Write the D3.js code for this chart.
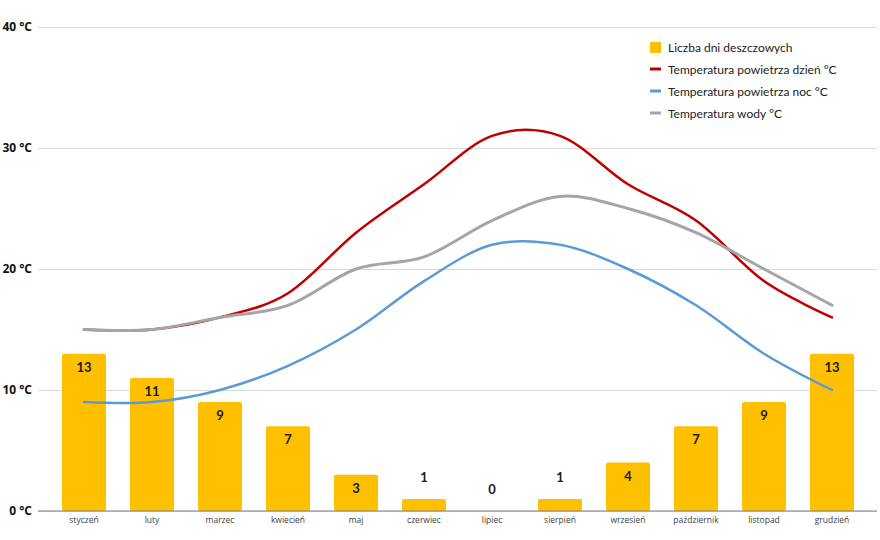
<!DOCTYPE html>
<html>
<head>
<meta charset="utf-8">
<script src="https://cdn.jsdelivr.net/npm/d3@7"></script>
<style>
  body { margin: 0; background: #fff; }
  svg { display: block; font-family: Lato, "Open Sans", sans-serif; }
</style>
</head>
<body>
<svg id="chart" width="880" height="540"></svg>
<script>
const months = ['styczeń', 'luty', 'marzec', 'kwiecień', 'maj', 'czerwiec', 'lipiec', 'sierpień', 'wrzesień', 'październik', 'listopad', 'grudzień'];
const rainDays = [13, 11, 9, 7, 3, 1, 0, 1, 4, 7, 9, 13];
const airDay = [15, 15, 16, 18, 23, 27, 31, 31, 27, 24, 19, 16];
const airNight = [9, 9, 10, 12, 15, 19, 22, 22, 20, 17, 13, 10];
const water = [15, 15, 16, 17, 20, 21, 24, 26, 25, 23, 20, 17];
const yTicks = [0, 10, 20, 30, 40];

const legendItems = [
  { label: 'Liczba dni deszczowych', color: '#FFC000', type: 'box' },
  { label: 'Temperatura powietrza dzień °C', color: '#C00000', type: 'line' },
  { label: 'Temperatura powietrza noc °C', color: '#5B9BD5', type: 'line' },
  { label: 'Temperatura wody °C', color: '#A5A5A5', type: 'line' }
];

const svg = d3.select('#chart');

const plotLeft = 38, plotRight = 877, plotTop = 27, plotBottom = 511;

const x = d3.scaleBand()
  .domain(months)
  .range([50, 866])
  .paddingInner(0.353)
  .paddingOuter(0.1765);

const y = d3.scaleLinear().domain([0, 40]).range([plotBottom, plotTop]);

// grid + y labels
const yAxis = svg.append('g')
  .attr('transform', `translate(${plotLeft},0)`)
  .call(d3.axisLeft(y).tickValues(yTicks).tickSize(-(plotRight - plotLeft)).tickPadding(6).tickFormat(d => d + ' °C'));
yAxis.select('.domain').remove();
yAxis.selectAll('line').attr('stroke', '#d9d9d9').attr('stroke-width', 1);
yAxis.selectAll('text')
  .attr('fill', '#111')
  .attr('font-size', 12)
  .attr('font-weight', 'bold')
  .attr('font-family', '"Open Sans", sans-serif');

// bars
svg.append('g').selectAll('rect')
  .data(rainDays)
  .join('rect')
  .attr('x', (d, i) => x(months[i]))
  .attr('y', d => y(d))
  .attr('width', x.bandwidth())
  .attr('height', d => plotBottom - y(d))
  .attr('rx', 2)
  .attr('fill', '#FFC000');

// baseline + month labels
const xAxis = svg.append('g')
  .attr('transform', `translate(0,${plotBottom})`)
  .call(d3.axisBottom(x).tickSize(0).tickPadding(6));
xAxis.select('.domain').remove();
xAxis.selectAll('text').attr('fill', '#404040').attr('font-size', 8.5).attr('font-family', '"Open Sans", sans-serif');
svg.append('line')
  .attr('x1', plotLeft).attr('x2', plotRight)
  .attr('y1', plotBottom).attr('y2', plotBottom)
  .attr('stroke', '#7f7f7f').attr('stroke-width', 1.2);

// lines
const line = d3.line()
  .x((d, i) => x(months[i]) + x.bandwidth() / 2)
  .y(d => y(d))
  .curve(d3.curveCardinal.tension(0));

const series = [
  { values: airDay, color: '#C00000', width: 2.5 },
  { values: airNight, color: '#5B9BD5', width: 2.5 },
  { values: water, color: '#A5A5A5', width: 3 }
];
series.forEach(s => {
  svg.append('path')
    .attr('d', line(s.values))
    .attr('fill', 'none')
    .attr('stroke', s.color)
    .attr('stroke-width', s.width)
    .attr('stroke-linecap', 'round');
});

// bar labels
svg.append('g').selectAll('text')
  .data(rainDays)
  .join('text')
  .attr('x', (d, i) => x(months[i]) + x.bandwidth() / 2)
  .attr('y', d => d < 2 ? y(d) - 17 : y(d) + 18)
  .attr('text-anchor', 'middle')
  .attr('font-size', 13)
  .attr('font-weight', 'bold')
  .attr('fill', '#1a1a1a')
  .text(d => d);

// legend
const legend = svg.append('g').attr('transform', 'translate(650,47)');
legendItems.forEach((item, i) => {
  const g = legend.append('g').attr('transform', `translate(0,${i * 22})`);
  if (item.type === 'box') {
    g.append('rect').attr('x', 0).attr('y', -5).attr('width', 11).attr('height', 11).attr('fill', item.color);
  } else {
    g.append('rect').attr('x', 0).attr('y', -1.5).attr('width', 11).attr('height', 3).attr('fill', item.color);
  }
  g.append('text')
    .attr('x', 18)
    .attr('y', 4.5)
    .attr('font-size', 12)
    .attr('fill', '#222')
    .text(item.label);
});
</script>
</body>
</html>
